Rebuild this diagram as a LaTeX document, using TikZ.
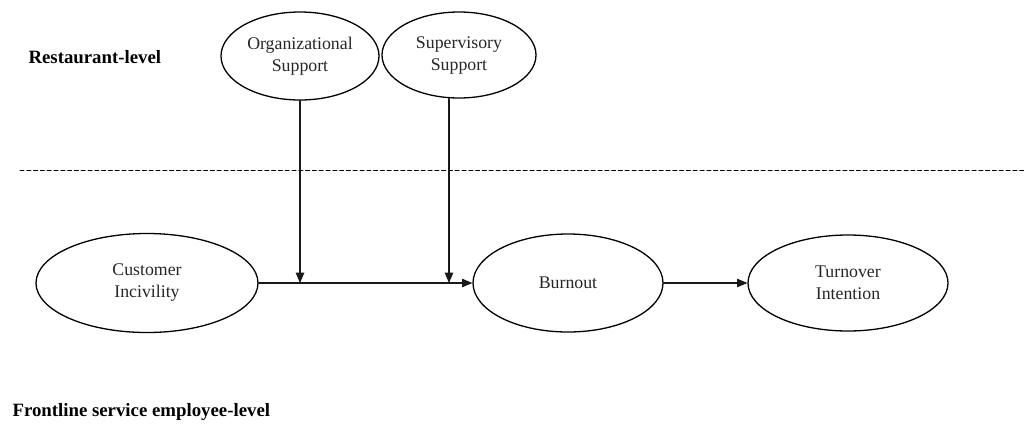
\documentclass[tikz,border=0pt]{standalone}
\usepackage{fontspec}
\setmainfont{Liberation Serif}
\usetikzlibrary{arrows,shapes.geometric}

\begin{document}
\begin{tikzpicture}[x=1pt,y=-1pt,line cap=round,line join=round,>=triangle 45,
  font=\fontsize{17.8}{22}\selectfont,
  construct/.style={draw,ellipse,line width=1.3pt,inner sep=0pt,align=center,text=black!85},
  path/.style={->,line width=1.4pt,color=black!90},
  level/.style={anchor=west,font=\fontsize{18.8}{22}\selectfont\bfseries}]
\useasboundingbox (0,0) rectangle (1024,429);
\node[construct,minimum width=158,minimum height=88] (org) at (300,56) {Organizational\\Support};
\node[construct,minimum width=154,minimum height=86] (sup) at (459,55) {Supervisory\\Support};
\node[construct,minimum width=222,minimum height=99] (inc) at (147,283) {Customer\\Incivility};
\node[construct,minimum width=190,minimum height=98] (burn) at (568,283) {Burnout};
\node[construct,minimum width=200,minimum height=96] (turn) at (848,283) {Turnover\\Intention};
\node[level] (rest) at (25,57) {Restaurant-level};
\node[level] (front) at (9,412) {Frontline service employee-level};
\draw [line width=1pt,dash pattern=on 4pt off 2.8pt] (20,170) -- (1024,170);
\coordinate (supfoot) at ([xshift=-10pt]sup.south);
\coordinate (m1) at (org.south |- burn.west);
\coordinate (m2) at (supfoot |- burn.west);
\draw [path] (inc.east |- burn.west) -- (burn.west);
\draw [path] (burn.east) -- (turn.west);
\draw [path] (org.south) -- (m1);
\draw [path] (supfoot) -- (m2);
\end{tikzpicture}
\end{document}
